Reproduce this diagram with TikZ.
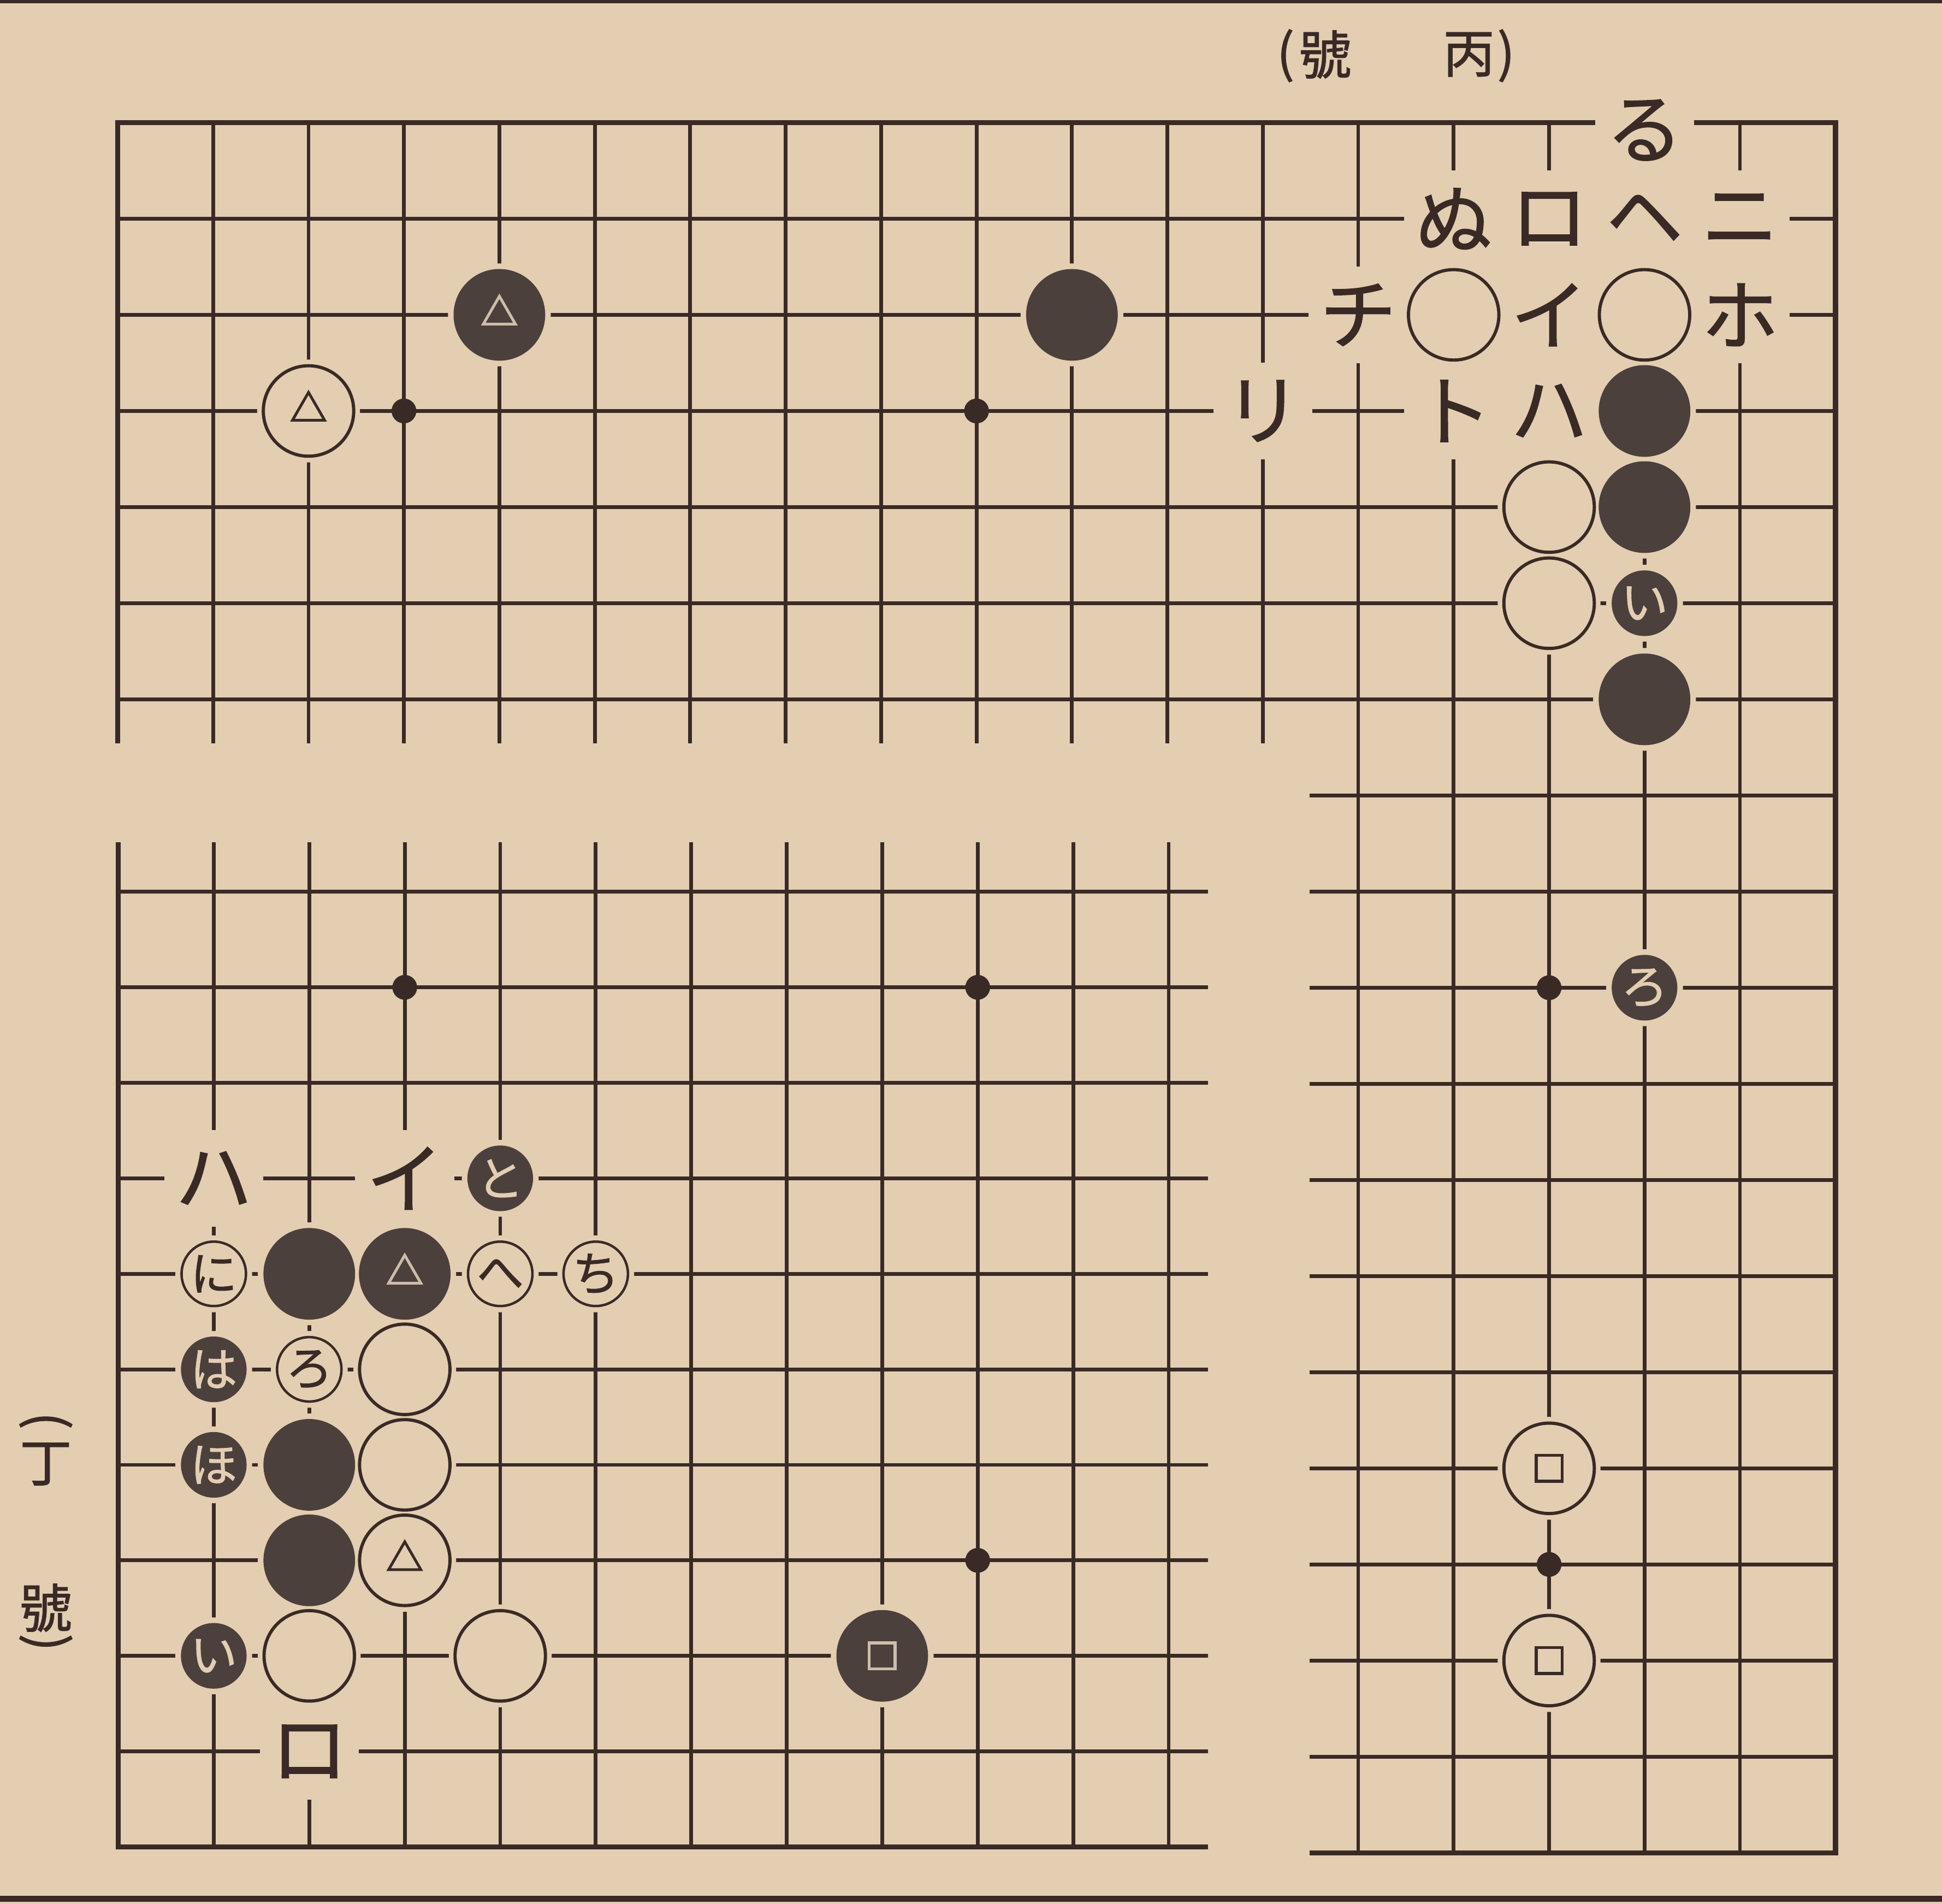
\documentclass[tikz,border=0pt]{standalone}
\usepackage{fontspec}
\usetikzlibrary{shapes.geometric}
\newfontfamily\jp[FakeBold=1.2]{Noto Sans CJK JP}
\definecolor{paper}{RGB}{227,206,178}
\definecolor{ink}{RGB}{58,42,38}
\definecolor{stoneblk}{RGB}{76,64,61}
\definecolor{marklight}{RGB}{205,190,170}
\tikzset{
  gridline/.style={draw=ink, line width=3pt},
  edgeline/.style={draw=ink, line width=4.2pt, line join=miter},
  knock/.style={fill=paper},
  boardlbl/.style={rectangle, fill=paper, inner sep=0pt, minimum width=80pt, minimum height=78pt, text=ink, font=\jp\fontsize{62}{66}\selectfont},
  bigblack/.style={circle, inner sep=0pt, minimum size=74pt, fill=stoneblk},
  bigwhite/.style={circle, inner sep=0pt, minimum size=73pt, fill=paper, draw=ink, line width=2.6pt},
  smallblack/.style={circle, inner sep=0pt, minimum size=53pt, fill=stoneblk, text=paper, font=\jp\fontsize{38}{42}\selectfont},
  smallwhite/.style={circle, inner sep=0pt, minimum size=52pt, fill=paper, draw=ink, line width=2pt, text=ink, font=\jp\fontsize{38}{42}\selectfont},
  starpt/.style={circle, fill=ink, inner sep=0pt, minimum size=20pt},
  tri/.style={regular polygon, regular polygon sides=3, inner sep=0pt, minimum size=30pt, line width=2.2pt},
  sqmark/.style={rectangle, inner sep=0pt, minimum size=21pt, line width=2.5pt},
  ttl/.style={text=ink, inner sep=0pt, font=\jp\fontsize{42}{46}\selectfont},
}
\begin{document}
\begin{tikzpicture}[x=1pt, y=1pt]
\path[use as bounding box, fill=paper] (0,0) rectangle (1568,1537);
% page rules
\draw[ink, line width=3pt] (0,1536) -- (1568,1536);
\draw[ink, line width=5pt] (0,4) -- (1568,4);
% titles
\node[ttl] (t1) at (1038,1492) {(};
\node[ttl] (t2) at (1070,1493) {號};
\node[ttl] (t3) at (1186,1493) {丙};
\node[ttl] (t4) at (1216,1492) {)};
\node[ttl, rotate=-90] (v1) at (37,390) {(};
\node[ttl] (v2) at (37,355) {丁};
\node[ttl] (v3) at (37,239) {號};
\node[ttl, rotate=-90] (v4) at (37,211) {)};

% ===== upper diagram (丙號) =====
\begin{scope}[shift={(17.95,1515.6)}, x=77.05pt, y=-77.6pt]
  \foreach \j in {2,...,7} \draw[gridline] (1,\j) -- (19,\j);
  \foreach \i in {2,...,13} \draw[gridline] (\i,1) -- (\i,7.46);
  \foreach \i in {14,...,18} \draw[gridline] (\i,1) -- (\i,19);
  \foreach \j in {8,...,18} \draw[gridline] (13.49,\j) -- (19,\j);
  \draw[edgeline] (1,7.46) -- (1,1) -- (19,1) -- (19,19) -- (13.49,19);
  \node[starpt] (us1) at (4,4) {};
  \node[starpt] (us2) at (10,4) {};
  \node[starpt] (us3) at (16,10) {};
  \node[starpt] (us4) at (16,16) {};
  % gaps cut in the lines round the stones
  \foreach \a/\b in {5/3,3/4,11/3,15/3,17/3,17/4,17/5,16/5,16/6,17/7,16/15,16/17}
    \fill[knock] (\a,\b) circle (41.5pt);
  \foreach \a/\b in {17/6,17/10}
    \fill[knock] (\a,\b) circle (31pt);
  % labels
  \node[boardlbl, yshift=-6pt] (ul1) at (17,1) {る};
  \node[boardlbl] (ul2) at (15,2) {ぬ};
  \node[boardlbl] (ul3) at (16,2) {ロ};
  \node[boardlbl] (ul4) at (17,2) {ヘ};
  \node[boardlbl] (ul5) at (18,2) {ニ};
  \node[boardlbl] (ul6) at (14,3) {チ};
  \node[boardlbl] (ul7) at (16,3) {イ};
  \node[boardlbl] (ul8) at (18,3) {ホ};
  \node[boardlbl] (ul9) at (13,4) {リ};
  \node[boardlbl] (ul10) at (15,4) {ト};
  \node[boardlbl] (ul11) at (16,4) {ハ};
  % stones
  \node[bigblack] (ub1) at (5,3) {};
  \node[tri, draw=marklight] (um1) at (ub1) {};
  \node[bigwhite] (uw1) at (3,4) {};
  \node[tri, draw=ink] (um2) at (uw1) {};
  \node[bigblack] (ub2) at (11,3) {};
  \node[bigwhite] (uw2) at (15,3) {};
  \node[bigwhite] (uw3) at (17,3) {};
  \node[bigblack] (ub3) at (17,4) {};
  \node[bigblack] (ub4) at (17,5) {};
  \node[bigwhite] (uw4) at (16,5) {};
  \node[bigwhite] (uw5) at (16,6) {};
  \node[smallblack] (ub5) at (17,6) {い};
  \node[bigblack] (ub6) at (17,7) {};
  \node[smallblack] (ub7) at (17,10) {ろ};
  \node[bigwhite] (uw6) at (16,15) {};
  \node[sqmark, draw=ink] (um3) at (uw6) {};
  \node[bigwhite] (uw7) at (16,17) {};
  \node[sqmark, draw=ink] (um4) at (uw7) {};
\end{scope}

% ===== lower diagram (丁號) =====
\begin{scope}[shift={(18.4,-31.1)}, x=77.1pt, y=77.1pt]
  \foreach \r in {2,...,11} \draw[gridline] (1,\r) -- (12.41,\r);
  \foreach \c in {2,...,12} \draw[gridline] (\c,1) -- (\c,11.52);
  \draw[edgeline] (1,11.52) -- (1,1) -- (12.41,1);
  \node[starpt] (ls1) at (4,10) {};
  \node[starpt] (ls2) at (10,10) {};
  \node[starpt] (ls3) at (10,4) {};
  % gaps cut in the lines round the stones
  \foreach \a/\b in {3/7,4/7,4/6,3/5,4/5,3/4,4/4,3/3,5/3,9/3}
    \fill[knock] (\a,\b) circle (41.5pt);
  \foreach \a/\b in {5/8,2/7,5/7,6/7,2/6,3/6,2/5,2/3}
    \fill[knock] (\a,\b) circle (31pt);
  % labels
  \node[boardlbl] (ll1) at (2,8) {ハ};
  \node[boardlbl] (ll2) at (4,8) {イ};
  \node[boardlbl] (ll3) at (3,2) {ロ};
  % stones
  \node[smallblack] (lb1) at (5,8) {と};
  \node[smallwhite] (lw1) at (2,7) {に};
  \node[bigblack] (lb2) at (3,7) {};
  \node[bigblack] (lb3) at (4,7) {};
  \node[tri, draw=marklight] (lm1) at (lb3) {};
  \node[smallwhite] (lw2) at (5,7) {へ};
  \node[smallwhite] (lw3) at (6,7) {ち};
  \node[smallblack] (lb4) at (2,6) {は};
  \node[smallwhite] (lw4) at (3,6) {ろ};
  \node[bigwhite] (lw5) at (4,6) {};
  \node[smallblack] (lb5) at (2,5) {ほ};
  \node[bigblack] (lb6) at (3,5) {};
  \node[bigwhite] (lw6) at (4,5) {};
  \node[bigblack] (lb7) at (3,4) {};
  \node[bigwhite] (lw7) at (4,4) {};
  \node[tri, draw=ink] (lm2) at (lw7) {};
  \node[smallblack] (lb8) at (2,3) {い};
  \node[bigwhite] (lw8) at (3,3) {};
  \node[bigwhite] (lw9) at (5,3) {};
  \node[bigblack] (lb9) at (9,3) {};
  \node[sqmark, draw=marklight] (lm3) at (lb9) {};
\end{scope}
\end{tikzpicture}
\end{document}
